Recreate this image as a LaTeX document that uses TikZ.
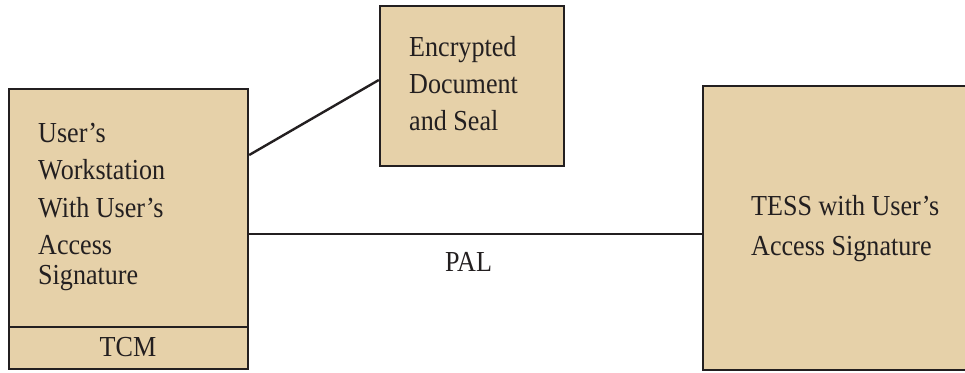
\documentclass[tikz,border=0pt]{standalone}
\usepackage{fontspec}
\setmainfont{Liberation Serif}[FakeStretch=0.9]
\definecolor{boxfill}{RGB}{230,209,169}
\definecolor{edge}{RGB}{35,31,32}
\begin{document}
\begin{tikzpicture}[x=1pt,y=-1pt,
  box/.style={draw=edge,fill=boxfill,line width=2.4pt,inner sep=0pt},
  lbl/.style={anchor=base west,inner sep=0pt,text=edge,font=\fontsize{29}{34}\selectfont},
  clbl/.style={anchor=base,inner sep=0pt,text=edge,font=\fontsize{29}{34}\selectfont},
  link/.style={draw=edge,line width=2.4pt}]
\useasboundingbox (0,0) rectangle (965,372);
\clip (0,0) rectangle (965,372);
% boxes
\node[box,minimum width=239pt,minimum height=238pt] (ws) at (128.5,208) {};
\node[box,minimum width=239pt,minimum height=42pt] (tcm) at (128.5,348) {};
\node[box,minimum width=184pt,minimum height=160pt] (enc) at (472,86) {};
\node[box,minimum width=290pt,minimum height=284pt] (tess) at (848,228) {};
% connectors
\draw[link] (ws.east |- 0,155) -- (enc.west |- 0,80);
\draw[link] (ws.east |- 0,234) -- (tess.west |- 0,234);
% texts
\node[lbl] (t1) at (38,142) {User’s};
\node[lbl] (t2) at (38,179.5) {Workstation};
\node[lbl] (t3) at (38,217) {With User’s};
\node[lbl] (t4) at (38,254.5) {Access};
\node[lbl] (t5) at (38,284) {Signature};
\node[clbl] (t6) at (128,356) {TCM};
\node[lbl] (e1) at (409,56) {Encrypted};
\node[lbl] (e2) at (409,93) {Document};
\node[lbl] (e3) at (409,130) {and Seal};
\node[lbl] (s1) at (751,215) {TESS with User’s};
\node[lbl] (s2) at (751,255) {Access Signature};
\node[clbl] (pal) at (468.5,271) {PAL};
\end{tikzpicture}
\end{document}
